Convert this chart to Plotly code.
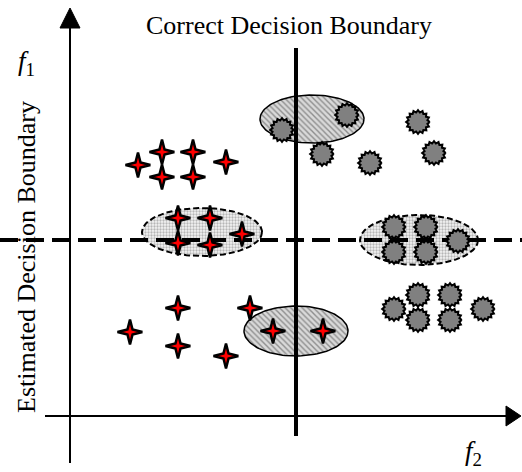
import numpy as np
import plotly.graph_objects as go

# Diagram data (coordinates in the figure's own f2 / f1 units, f1 axis pointing down)
cross_f2 = [138, 162, 162, 193, 193, 226, 178, 210, 178, 210, 242,
            130, 178, 178, 226, 250, 273, 323]
cross_f1 = [165, 152, 177, 152, 177, 162, 218, 218, 243, 245, 234,
            332, 308, 346, 356, 308, 331, 331]
circle_f2 = [282, 347, 322, 370, 418, 434, 394, 426, 394, 426, 458,
             394, 418, 418, 450, 450, 483]
circle_f1 = [130, 115, 154, 163, 122, 153, 227, 227, 252, 252, 241,
             309, 295, 320, 295, 320, 309]
ell_cx = [312, 296, 202, 419]
ell_cy = [119, 331, 232, 240]
ell_rx = [52, 52, 60, 59]
ell_ry = [24, 25, 24, 25]
ell_kind = ["hatch", "hatch", "dots", "dots"]
correct_boundary_f2 = 296
estimated_boundary_f1 = 240

W, H = 522, 472
fig = go.Figure()

# ellipses
t = np.linspace(0, 2 * np.pi, 121)
for cx, cy, rx, ry, kind in zip(ell_cx, ell_cy, ell_rx, ell_ry, ell_kind):
    if kind == "hatch":
        pat = dict(shape="\\", fgcolor="#444444", bgcolor="#d9d9d9", size=4, solidity=0.35)
        line = dict(color="black", width=1.5)
    else:
        pat = dict(shape=".", fgcolor="#777777", bgcolor="#f4f4f4", size=3, solidity=0.45)
        line = dict(color="black", width=2, dash="6px,3px")
    fig.add_trace(go.Scatter(x=cx + rx * np.cos(t), y=cy + ry * np.sin(t), mode="lines",
                             fill="toself", fillpattern=pat, fillcolor="#d9d9d9",
                             line=line, hoverinfo="skip", showlegend=False))

# decision boundaries
fig.add_trace(go.Scatter(x=[correct_boundary_f2, correct_boundary_f2], y=[48, 436], mode="lines",
                         line=dict(color="black", width=4), showlegend=False))
fig.add_trace(go.Scatter(x=[0, W], y=[estimated_boundary_f1, estimated_boundary_f1], mode="lines",
                         line=dict(color="black", width=4, dash="18px,8px"), showlegend=False))

# axes
fig.add_trace(go.Scatter(x=[70, 70], y=[463, 26], mode="lines",
                         line=dict(color="black", width=2), showlegend=False))
fig.add_trace(go.Scatter(x=[45, 508], y=[416, 416], mode="lines",
                         line=dict(color="black", width=2), showlegend=False))
fig.add_trace(go.Scatter(x=[60, 70, 80, 60], y=[28, 8, 28, 28], mode="lines", fill="toself",
                         fillcolor="black", line=dict(color="black", width=1), showlegend=False))
fig.add_trace(go.Scatter(x=[506, 521, 506, 506], y=[406, 416, 426, 406], mode="lines", fill="toself",
                         fillcolor="black", line=dict(color="black", width=1), showlegend=False))

# circles (jagged edges)
cx_all, cy_all = [], []
n_teeth = 16
ang = np.linspace(0, 2 * np.pi, 2 * n_teeth + 1)
rad = np.where(np.arange(2 * n_teeth + 1) % 2 == 0, 11.8, 9.6)
for x0, y0 in zip(circle_f2, circle_f1):
    cx_all += list(x0 + rad * np.cos(ang)) + [None]
    cy_all += list(y0 + rad * np.sin(ang)) + [None]
fig.add_trace(go.Scatter(x=cx_all, y=cy_all, mode="lines", fill="toself", fillcolor="#808080",
                         line=dict(color="black", width=2), showlegend=False))

# crosses (4-point stars)
sx, sy = [], []
sang = np.linspace(0, 2 * np.pi, 9)
srad = np.where(np.arange(9) % 2 == 0, 12.5, 3.6)
for x0, y0 in zip(cross_f2, cross_f1):
    sx += list(x0 + srad * np.cos(sang)) + [None]
    sy += list(y0 + srad * np.sin(sang)) + [None]
fig.add_trace(go.Scatter(x=sx, y=sy, mode="lines", fill="toself", fillcolor="red",
                         line=dict(color="black", width=2.5), showlegend=False))

font = dict(family="Liberation Serif", color="black")
fig.add_annotation(x=289, y=25, text="Correct Decision Boundary", showarrow=False,
                   font=dict(size=26, **font))
fig.add_annotation(x=26, y=257, text="Estimated Decision Boundary", showarrow=False,
                   textangle=-90, font=dict(size=26, **font))
fig.add_annotation(x=26, y=63, text="<i>f</i><sub>1</sub>", showarrow=False,
                   font=dict(size=27, **font))
fig.add_annotation(x=473, y=453, text="<i>f</i><sub>2</sub>", showarrow=False,
                   font=dict(size=27, **font))

fig.update_xaxes(range=[0, W], visible=False, fixedrange=True)
fig.update_yaxes(range=[H, 0], visible=False, fixedrange=True)
fig.update_layout(width=W, height=H, margin=dict(l=0, r=0, t=0, b=0),
                  plot_bgcolor="white", paper_bgcolor="white", showlegend=False)
fig.write_html("out.html", config={"displayModeBar": False},
               post_script="document.body.style.margin='0';document.body.style.overflow='hidden';")
